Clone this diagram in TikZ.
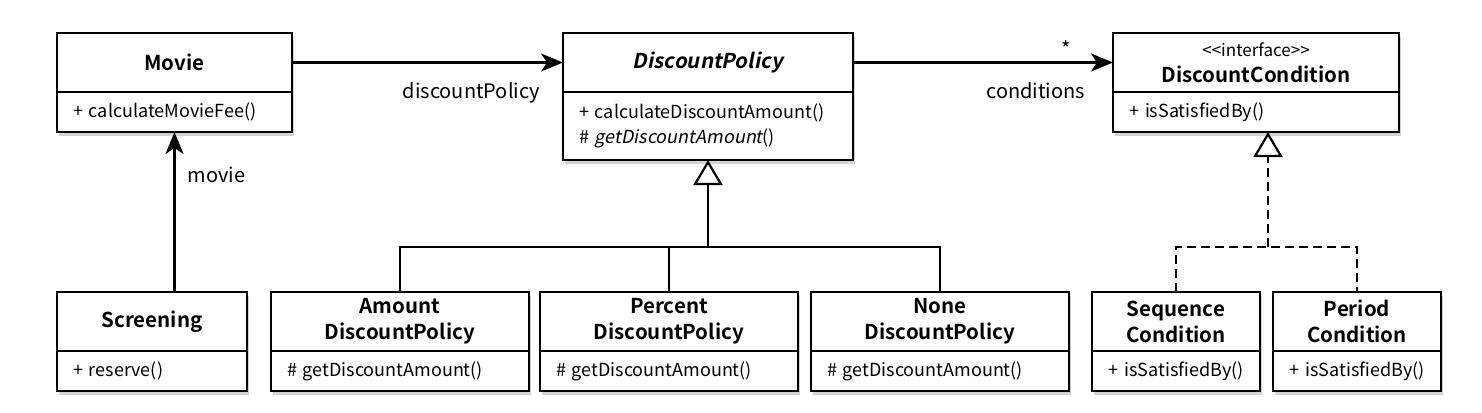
\documentclass[tikz,border=0pt]{standalone}
\usepackage{fontspec}
\setmainfont{Noto Sans CJK KR}[
    ItalicFont = {Noto Sans CJK KR}, ItalicFeatures = {FakeSlant = 0.2},
    BoldFont = {Noto Sans CJK KR Bold},
    BoldItalicFont = {Noto Sans CJK KR Bold}, BoldItalicFeatures = {FakeSlant = 0.2}]
\usetikzlibrary{positioning,arrows.meta,shadows}
\hyphenpenalty=10000
\exhyphenpenalty=10000

\begin{document}
\begin{tikzpicture}[
    x = 1pt, y = -1pt,
    every node/.style = {outer sep = 0pt},
    classhead/.style = {
        draw, fill = white, line width = 2pt,
        text width = #1, inner xsep = 16pt, inner ysep = 0pt,
        minimum height = 59pt, align = center, anchor = north west,
        font = \fontsize{20.5}{26}\selectfont\bfseries,
        drop shadow = {shadow xshift = 2pt, shadow yshift = -4pt, opacity = 0.35}
    },
    classbody/.style = {
        draw, fill = white, line width = 2pt,
        text width = #1, inner xsep = 16pt, inner ysep = 0pt,
        minimum height = 40pt, align = left,
        font = \fontsize{18}{25}\selectfont,
        drop shadow = {shadow xshift = 2pt, shadow yshift = -4pt, opacity = 0.35}
    },
    rolename/.style = {font = \fontsize{20}{24}\selectfont, inner sep = 0pt},
    assoc/.style = {line width = 2.4pt, -{Stealth[length = 22pt, width = 18pt, inset = 6pt]}},
    inherit/.style = {line width = 2.2pt, -{Triangle[open, length = 25pt, width = 29pt, fill = white]}},
    branch/.style = {line width = 2.2pt}
]
\useasboundingbox (0,0) rectangle (1482,412);

\node[classhead = 203pt] (movieh) at (57,33) {Movie};
\node[classbody = 203pt, below = 0pt of movieh] (movieb) {+ calculateMovieFee()};

\node[classhead = 258pt] (policyh) at (563,33) {\textit{DiscountPolicy}};
\node[classbody = 258pt, minimum height = 68pt, below = 0pt of policyh] (policyb)
    {+ calculateDiscountAmount()\\\# \textit{getDiscountAmount}()};

\node[classhead = 254pt] (condh) at (1113,33)
    {{\fontsize{17}{16}\selectfont\mdseries\textless\kern0pt\textless interface\textgreater\kern0pt\textgreater}\\DiscountCondition};
\node[classbody = 254pt, below = 0pt of condh] (condb) {+ isSatisfiedBy()};

\node[classhead = 158pt] (screenh) at (57,292) {Screening};
\node[classbody = 158pt, below = 0pt of screenh] (screenb) {+ reserve()};

\node[classhead = 226pt] (amounth) at (271,292) {Amount\\DiscountPolicy};
\node[classbody = 226pt, below = 0pt of amounth] (amountb) {\# getDiscountAmount()};

\node[classhead = 226pt] (percenth) at (540,292) {Percent\\DiscountPolicy};
\node[classbody = 226pt, below = 0pt of percenth] (percentb) {\# getDiscountAmount()};

\node[classhead = 226pt] (noneh) at (811,292) {None\\DiscountPolicy};
\node[classbody = 226pt, below = 0pt of noneh] (noneb) {\# getDiscountAmount()};

\node[classhead = 136pt] (seqh) at (1092,292) {Sequence\\Condition};
\node[classbody = 152pt, inner xsep = 8pt, align = center, below = 0pt of seqh] (seqb) {+ isSatisfiedBy()};

\node[classhead = 136pt] (periodh) at (1273,292) {Period\\Condition};
\node[classbody = 152pt, inner xsep = 8pt, align = center, below = 0pt of periodh] (periodb) {+ isSatisfiedBy()};

\draw[assoc] (movieh.east) -- node[rolename, pos = 1, anchor = north east, xshift = -23pt, yshift = -20pt] {discountPolicy} (policyh.west);
\draw[assoc] (policyh.east) -- node[rolename, pos = 1, anchor = north east, xshift = -28pt, yshift = -20pt] {conditions}
    node[rolename, pos = 1, xshift = -47pt, yshift = 14pt] {*} (condh.west);
\draw[assoc] (screenh.north -| movieb.south) -- node[rolename, pos = 0.73, right = 13pt] {movie} (movieb.south);

\coordinate (policyjoin) at ([yshift = 45pt] policyb.south |- amounth.north);
\draw[branch] (amounth.north) |- (policyjoin) -| (noneh.north);
\draw[branch] (percenth.north) -- (percenth.north |- policyjoin);
\draw[inherit] (policyjoin) -- (policyb.south);

\coordinate (condjoin) at ([xshift = 12pt, yshift = 45pt] condb.south |- seqh.north);
\draw[branch, dash pattern = on 9pt off 5pt] (seqh.north) |- (condjoin) -| (periodh.north);
\draw[inherit, dash pattern = on 9pt off 5pt] (condjoin) -- (condjoin |- condb.south);

\end{tikzpicture}
\end{document}
